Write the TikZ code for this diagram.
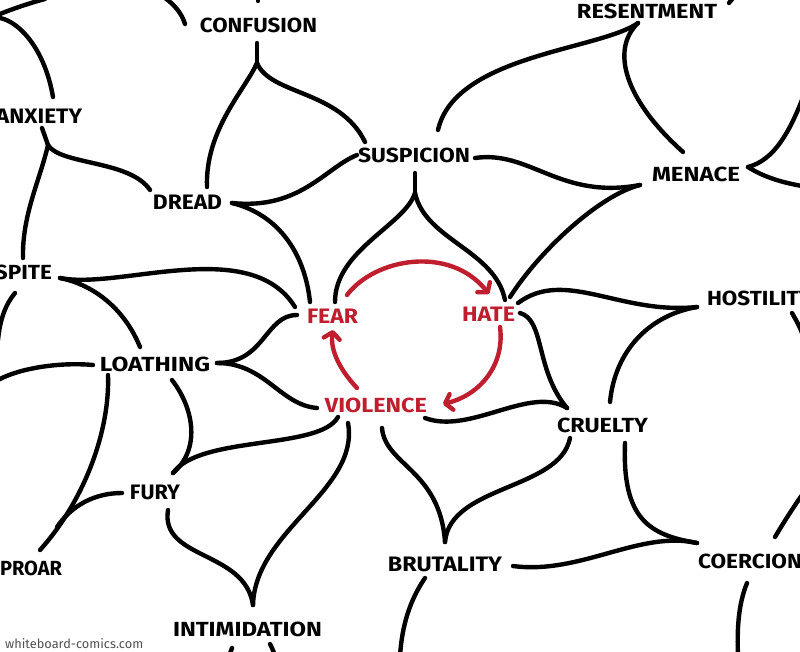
\documentclass[tikz,border=0pt]{standalone}
\usepackage{fontspec}
\setmainfont{Fira Sans}
\usetikzlibrary{arrows.meta}
\definecolor{ink}{RGB}{0,0,0}
\definecolor{redink}{RGB}{190,30,45}
\definecolor{wm}{RGB}{80,80,80}
\newcommand{\wlab}[2]{\resizebox{#1pt}{14.5pt}{\bfseries #2}}
\begin{document}
\begin{tikzpicture}[x=1pt,y=-1pt,
  word/.style={inner sep=0pt, text=ink},
  redword/.style={inner sep=0pt, text=redink},
  link/.style={draw=ink, line width=4.4pt, line cap=round},
  cyc/.style={draw=redink, line width=4.4pt, line cap=round, -{Straight Barb[length=6.5pt,width=16pt,round]}}]
\useasboundingbox (0,0) rectangle (800,652);
% words
\node[word] (confusion) at (258.5,25.5) {\wlab{117}{CONFUSION}};
\node[word] (anxiety) at (39,116.5) {\wlab{86}{ANXIETY}};
\node[word] (dread) at (187.5,202.5) {\wlab{69}{DREAD}};
\node[word] (suspicion) at (414,155.5) {\wlab{112}{SUSPICION}};
\node[word] (spite) at (23.5,272.5) {\wlab{57}{SPITE}};
\node[redword] (fear) at (332.5,316.5) {\wlab{51}{FEAR}};
\node[redword] (hate) at (488.5,314.5) {\wlab{53}{HATE}};
\node[word] (loathing) at (155,364.5) {\wlab{110}{LOATHING}};
\node[redword] (violence) at (376,405.5) {\wlab{102}{VIOLENCE}};
\node[word] (fury) at (155,492.5) {\wlab{50}{FURY}};
\node[word] (uproar) at (24.5,568.5) {\wlab{75}{UPROAR}};
\node[word] (intimidation) at (247.5,629.5) {\wlab{149}{INTIMIDATION}};
\node[word] (cruelty) at (602.5,425) {\wlab{91}{CRUELTY}};
\node[word] (brutality) at (445,564) {\wlab{114}{BRUTALITY}};
\node[word] (coercion) at (750,561) {\wlab{104}{COERCION}};
\node[word] (resentment) at (647,11) {\wlab{140}{RESENTMENT}};
\node[word] (menace) at (696,174.5) {\wlab{88}{MENACE}};
\node[word] (hostility) at (759.5,298) {\wlab{105}{HOSTILITY}};
\node[inner sep=0pt, text=wm, anchor=west] (credit) at (5,644) {\resizebox{138pt}{!}{\rmfamily whiteboard-comics.com}};
% anchor coordinates
\coordinate (confA) at (257,43); \coordinate (confJ) at (257,63);
\coordinate (anxT) at (53,97);
\coordinate (anxA) at (42,128); \coordinate (anxJ) at (48,145);
\coordinate (dreadT) at (207,187); \coordinate (dreadL) at (150,190); \coordinate (dreadR) at (232,203);
\coordinate (suspL) at (357,155); \coordinate (suspTL) at (365,142); \coordinate (suspT) at (438,130);
\coordinate (suspA) at (415,173); \coordinate (suspJ) at (415,193); \coordinate (suspR) at (475,158);
\coordinate (spiteT) at (23,258); \coordinate (spiteR) at (60,278); \coordinate (spiteB) at (15,293);
\coordinate (fearTL) at (295,307); \coordinate (fearT1) at (310,302); \coordinate (fearT2) at (335,302);
\coordinate (fearL) at (297,315); \coordinate (fearA) at (347,295); \coordinate (fearB) at (333,330);
\coordinate (hateT) at (505,300); \coordinate (hateTR) at (510,297); \coordinate (hateR) at (518,303);
\coordinate (hateR2) at (520,313); \coordinate (hateB) at (500,327); \coordinate (hateTip) at (489,294);
\coordinate (loathT) at (140,347); \coordinate (loathR) at (217,363); \coordinate (loathL) at (93,365);
\coordinate (loathB) at (108,375); \coordinate (loathBR) at (172,380);
\coordinate (violL) at (317,408); \coordinate (violB1) at (338,417); \coordinate (violB2) at (348,423);
\coordinate (violB3) at (382,428); \coordinate (violR) at (425,418); \coordinate (violT) at (357,388);
\coordinate (violTip) at (443,404);
\coordinate (furyT) at (173,473); \coordinate (furyL) at (122,493); \coordinate (furyB) at (168,510);
\coordinate (uproarT) at (40,550); \coordinate (uproarJ) at (57,527);
\coordinate (intimT) at (253,605);
\coordinate (crueltyT) at (567,408); \coordinate (crueltyTR) at (610,402);
\coordinate (crueltyB) at (570,438); \coordinate (crueltyBR) at (625,443);
\coordinate (brutT) at (445,542); \coordinate (brutR) at (513,566); \coordinate (brutB) at (425,578);
\coordinate (coerL) at (697,543); \coordinate (coerB) at (747,583); \coordinate (coerTR) at (775,537);
\coordinate (resA) at (638,23);
\coordinate (menT) at (683,152); \coordinate (menL) at (640,185); \coordinate (menR) at (748,167);
\coordinate (hostL) at (697,307); \coordinate (hostR) at (792,313);
% free ends at the picture's edge
\coordinate (e1) at (0,14); \coordinate (e2) at (45,-1);
\coordinate (e3) at (165,-2); \coordinate (e4) at (185,24);
\coordinate (e5) at (0,18); \coordinate (e6) at (-2,340); \coordinate (e7) at (-2,380);
\coordinate (e8) at (802,100); \coordinate (e9) at (802,186); \coordinate (e10) at (802,333);
\coordinate (e11) at (802,495); \coordinate (e12) at (738,656); \coordinate (e13) at (400,656);
\coordinate (e14) at (232,648); \coordinate (e15) at (229,656); \coordinate (e16) at (270,644);
\coordinate (e17) at (275,656); \coordinate (e18) at (258,-2); \coordinate (e19) at (258,1);
\coordinate (e20) at (729,3); \coordinate (e21) at (733,-2);
% black links
\path[link] (e1) .. controls (15,8) and (30,3) .. (e2);
\path[link] (e3) .. controls (175,5) and (182,14) .. (e4);
\path[link] (e18) -- (e19);
\path[link] (e20) -- (e21);
\path[link] (e5) .. controls (20,22) and (45,50) .. (anxT);
\path[link] (confA) -- (confJ);
\path[link] (confJ) .. controls (245,90) and (205,130) .. (dreadT);
\path[link] (confJ) .. controls (270,95) and (340,90) .. (suspTL);
\path[link] (anxA) -- (anxJ);
\path[link] (anxJ) .. controls (60,165) and (130,160) .. (dreadL);
\path[link] (anxJ) .. controls (40,180) and (22,215) .. (spiteT);
\path[link] (dreadR) .. controls (300,210) and (325,168) .. (suspL);
\path[link] (dreadR) .. controls (280,215) and (305,255) .. (fearT1);
\path[link] (suspA) -- (suspJ);
\path[link] (suspJ) .. controls (405,225) and (335,250) .. (fearT2);
\path[link] (suspJ) .. controls (425,240) and (495,250) .. (hateT);
\path[link] (spiteR) .. controls (120,290) and (250,235) .. (fearTL);
\path[link] (spiteR) .. controls (95,285) and (125,310) .. (loathT);
\path[link] (spiteB) .. controls (5,305) and (0,320) .. (e6);
\path[link] (fearL) .. controls (265,315) and (265,363) .. (loathR);
\path[link] (loathR) .. controls (265,363) and (280,405) .. (violL);
\path[link] (loathL) .. controls (60,362) and (20,368) .. (e7);
\path[link] (loathB) .. controls (110,430) and (85,500) .. (uproarT);
\path[link] (furyL) .. controls (95,493) and (72,505) .. (uproarJ);
\path[link] (loathBR) .. controls (195,410) and (200,450) .. (furyT);
\path[link] (violB1) .. controls (320,450) and (200,435) .. (furyT);
\path[link] (furyB) .. controls (160,560) and (245,550) .. (intimT);
\path[link] (violB2) .. controls (360,490) and (255,530) .. (intimT);
\path[link] (e14) -- (e15);
\path[link] (e16) .. controls (272,648) and (274,652) .. (e17);
\path[link] (hateR2) .. controls (545,320) and (535,370) .. (crueltyT);
\path[link] (violR) .. controls (470,435) and (530,385) .. (crueltyT);
\path[link] (hateR) .. controls (565,268) and (620,315) .. (hostL);
\path[link] (hostL) .. controls (650,315) and (615,350) .. (crueltyTR);
\path[link] (menL) .. controls (600,195) and (540,250) .. (hateTR);
\path[link] (suspR) .. controls (530,150) and (560,200) .. (menL);
\path[link] (resA) .. controls (600,50) and (455,55) .. (suspT);
\path[link] (resA) .. controls (610,50) and (625,100) .. (menT);
\path[link] (menR) .. controls (775,160) and (790,130) .. (e8);
\path[link] (menR) .. controls (765,178) and (785,183) .. (e9);
\path[link] (hostR) .. controls (796,320) and (800,327) .. (e10);
\path[link] (crueltyBR) .. controls (622,520) and (650,535) .. (coerL);
\path[link] (crueltyB) .. controls (560,490) and (450,485) .. (brutT);
\path[link] (violB3) .. controls (385,465) and (440,470) .. (brutT);
\path[link] (brutR) .. controls (580,575) and (640,530) .. (coerL);
\path[link] (coerB) .. controls (738,605) and (737,630) .. (e12);
\path[link] (coerTR) .. controls (785,520) and (795,505) .. (e11);
\path[link] (brutB) .. controls (410,600) and (402,625) .. (e13);
% red cycle
\path[cyc] (fearA) .. controls (375,258) and (450,245) .. (hateTip);
\path[cyc] (hateB) .. controls (505,365) and (480,395) .. (violTip);
\path[cyc] (violT) .. controls (340,370) and (330,350) .. (fearB);
\end{tikzpicture}
\end{document}
